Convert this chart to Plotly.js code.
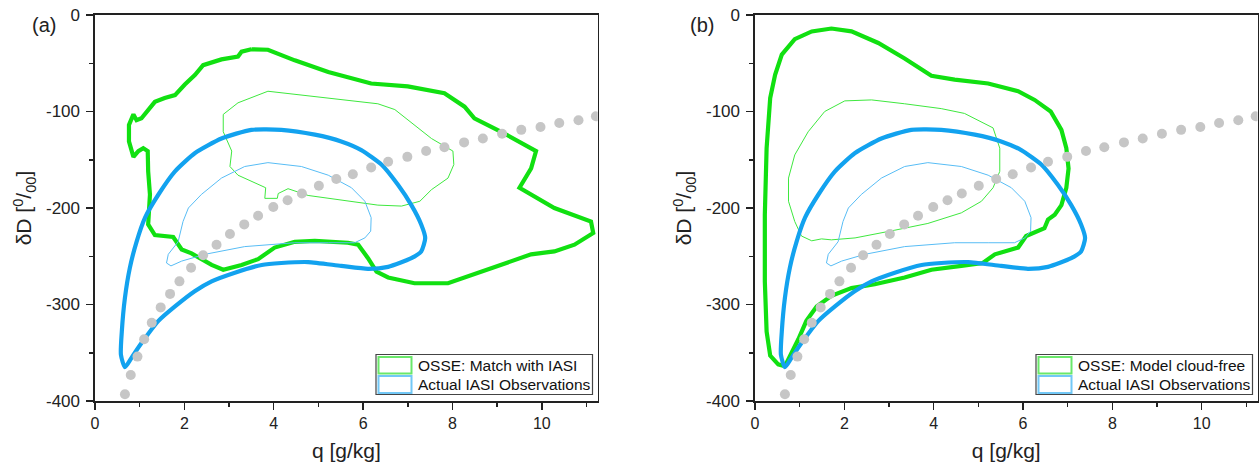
<!DOCTYPE html>
<html><head><meta charset="utf-8">
<script src="https://cdn.plot.ly/plotly-3.0.1.min.js"></script>
<style>html,body{margin:0;padding:0;background:#fff}#chart{width:1260px;height:470px}</style>
</head><body><div id="chart"></div>
<script>
// Rayleigh distillation curve (grey dots), same in both panels
const rayQ = [0.67,0.80,0.95,1.10,1.27,1.47,1.68,1.89,2.15,2.42,2.72,3.02,3.34,3.65,3.99,4.31,4.63,5.01,5.40,5.77,6.18,6.56,6.99,7.41,7.82,8.26,8.68,9.11,9.54,9.97,10.39,10.82,11.21];
const rayD = [-393,-373,-354,-336,-319,-303,-289,-276,-262,-249,-238,-227,-217,-208,-199,-192,-185,-177,-170,-165,-158,-152,-147,-141,-137,-132,-128,-123,-119,-116,-112,-109,-105];

// Actual IASI observations (both panels)
const iasiOuterQ = [0.67,0.58,0.60,0.67,0.78,0.93,1.12,1.42,1.79,2.24,2.83,3.50,4.17,4.92,5.51,5.96,6.41,6.78,7.08,7.30,7.39,7.30,7.08,6.56,6.11,5.51,4.77,4.17,3.73,3.13,2.61,2.24,1.79,1.42,1.04,0.82,0.67];
const iasiOuterD = [-365,-352,-328,-293,-262,-235,-210,-186,-162,-143,-128,-119,-119,-124,-131,-140,-155,-176,-197,-217,-231,-245,-252,-261,-263,-260,-256,-257,-259,-267,-276,-286,-302,-317,-340,-355,-365];
const iasiInnerQ = [1.60,1.70,1.94,2.46,3.35,4.47,5.22,5.81,6.04,6.17,6.18,6.04,5.74,5.22,4.62,3.87,3.35,2.83,2.38,2.09,1.97,1.86,1.64,1.60];
const iasiInnerD = [-257,-260,-255,-248,-240,-236,-236,-236,-231,-224,-210,-193,-179,-166,-157,-153,-157,-169,-186,-200,-214,-235,-248,-257];

// (a) OSSE: Match with IASI
const osseAOuterQ = [3.50,3.87,4.47,5.22,6.18,7.00,7.82,8.27,8.49,9.09,9.87,9.76,9.50,10.28,11.10,11.15,10.73,10.28,9.76,9.31,8.57,7.90,7.15,6.56,6.30,6.11,5.89,5.66,4.92,4.47,4.02,3.65,3.28,2.87,2.61,2.16,1.94,1.75,1.34,1.19,1.23,1.19,1.18,1.08,0.97,0.86,0.76,0.76,0.86,0.93,1.04,1.34,1.56,1.79,2.01,2.24,2.42,2.83,3.20,3.28,3.50];
const osseAOuterD = [-35.5,-36,-47,-59,-71,-74,-81,-95,-107,-121,-141,-159,-179,-200,-214,-226,-238,-245,-248,-255,-267,-278,-278,-272,-266,-252,-238,-236,-234,-235,-241,-253,-259,-264,-259,-247,-243,-230,-228,-217,-186,-162,-141,-138,-141,-147,-131,-114,-103,-109,-107,-90,-86,-83,-72,-62,-52,-46,-43,-38,-35.5];
const osseAInnerQ = [2.87,3.20,3.87,4.47,5.22,6.33,6.71,7.15,7.53,8.01,8.03,7.90,7.53,7.27,6.86,6.33,5.37,4.77,4.32,4.10,4.08,3.80,3.82,3.20,3.02,3.06,2.87,2.87];
const osseAInnerD = [-103,-91,-79,-82,-86,-92,-98,-114,-128,-141,-155,-169,-181,-193,-198,-197,-191,-187,-180,-185,-190,-190,-179,-166,-157,-141,-121,-103];

// (b) OSSE: Model cloud-free
const osseBOuterQ = [0.67,0.52,0.34,0.26,0.22,0.22,0.26,0.34,0.45,0.60,0.89,1.27,1.71,2.16,2.76,3.35,3.95,4.47,5.22,5.89,6.26,6.62,6.86,6.97,7.02,6.97,6.86,6.71,6.56,6.48,6.07,5.89,5.37,5.10,4.62,3.95,3.35,2.68,2.16,1.71,1.38,1.15,0.97,0.78,0.67];
const osseBOuterD = [-364,-362,-353,-328,-276,-207,-138,-86,-62,-41,-25,-17,-14,-17,-29,-45,-63,-67,-71,-79,-88,-100,-119,-138,-159,-179,-197,-207,-212,-221,-229,-241,-248,-257,-260,-264,-272,-279,-283,-291,-302,-317,-336,-355,-364];
const osseBInnerQ = [1.27,1.04,0.89,0.75,0.75,0.89,1.19,1.56,2.01,2.61,3.35,4.17,4.69,5.33,5.48,5.48,5.33,5.07,4.62,3.87,3.13,2.24,1.71,1.49,1.27];
const osseBInnerD = [-234,-229,-214,-193,-169,-145,-121,-100,-89,-88,-92,-97,-102,-117,-138,-162,-179,-193,-205,-216,-223,-231,-233,-232,-234];

const xTickVals = [0,2,4,6,8,10];
const yTickVals = [0,-100,-200,-300,-400];
const yTickText = ['0','-100','-200','-300','-400'];
const legendA = ['OSSE: Match with IASI','Actual IASI Observations'];
const legendB = ['OSSE: Model cloud-free','Actual IASI Observations'];
const panelLabels = ['(a)','(b)'];

const GREEN = '#11e011', GREEN_T = '#3fe83f', BLUE = '#12a2ef', BLUE_T = '#58bdf5', GREY = '#c6c6c6';
const W = 1260, H = 470;
const px = v => v / W, py = v => 1 - v / H;
const FAM = 'Liberation Sans, Arial, sans-serif';

function panel(xr, yr, oq, od, iq, id) {
  return [
    {x: oq, y: od, xaxis: xr, yaxis: yr, mode: 'lines', line: {color: GREEN, width: 4.2}, hoverinfo: 'skip'},
    {x: iq, y: id, xaxis: xr, yaxis: yr, mode: 'lines', line: {color: GREEN_T, width: 1}, hoverinfo: 'skip'},
    {x: iasiOuterQ, y: iasiOuterD, xaxis: xr, yaxis: yr, mode: 'lines', line: {color: BLUE, width: 4.2, shape: 'spline', smoothing: 0.6}, hoverinfo: 'skip'},
    {x: iasiInnerQ, y: iasiInnerD, xaxis: xr, yaxis: yr, mode: 'lines', line: {color: BLUE_T, width: 1}, hoverinfo: 'skip'},
    {x: rayQ, y: rayD, xaxis: xr, yaxis: yr, mode: 'markers', marker: {color: GREY, size: 10, line: {width: 0}}, hoverinfo: 'skip'}
  ];
}

const data = [].concat(
  panel('x', 'y', osseAOuterQ, osseAOuterD, osseAInnerQ, osseAInnerD),
  panel('x2', 'y2', osseBOuterQ, osseBOuterD, osseBInnerQ, osseBInnerD)
);

const titleFont = {family: FAM, size: 21, color: '#222'};

function xAxis(domain, anchor) {
  return {domain: domain, anchor: anchor, range: [0, 11.25], tickmode: 'array', tickvals: xTickVals,
    ticks: 'outside', ticklen: 7, tickwidth: 1.5, tickcolor: '#222',
    minor: {tickmode: 'linear', tick0: 0, dtick: 1, ticks: 'outside', ticklen: 4, tickwidth: 1.5, tickcolor: '#222'},
    showline: true, linecolor: '#222', linewidth: 1.6, mirror: true, showgrid: false, zeroline: false,
    tickfont: {family: FAM, size: 16, color: '#222'}, title: {text: 'q [g/kg]', font: titleFont, standoff: 12}, automargin: false, fixedrange: true};
}
function yAxis(domain, anchor) {
  return {domain: domain, anchor: anchor, range: [-400, 0], tickmode: 'array', tickvals: yTickVals, ticktext: yTickText,
    ticks: 'outside', ticklen: 7, tickwidth: 1.5, tickcolor: '#222', ticklabelstandoff: 3,
    minor: {tickmode: 'linear', tick0: 0, dtick: 50, ticks: 'outside', ticklen: 4, tickwidth: 1.5, tickcolor: '#222'},
    showline: true, linecolor: '#222', linewidth: 1.6, mirror: true, showgrid: false, zeroline: false,
    tickfont: {family: FAM, size: 17, color: '#222'}, title: {text: 'δD [<sup>0</sup>/<sub>00</sub>]', font: titleFont, standoff: 8}, automargin: false, fixedrange: true};
}

const yDom = [py(401), py(15)];

function legendShapes(x0) {
  return [
    {type: 'rect', xref: 'paper', yref: 'paper', x0: px(x0), x1: px(x0 + 216.5), y0: py(394.5), y1: py(354.5), line: {color: '#444', width: 1.2}, fillcolor: 'rgba(255,255,255,1)', layer: 'above'},
    {type: 'rect', xref: 'paper', yref: 'paper', x0: px(x0 + 2.5), x1: px(x0 + 35.5), y0: py(373.5), y1: py(357), line: {color: '#6ae86a', width: 2}, fillcolor: 'rgba(0,0,0,0)', layer: 'above'},
    {type: 'rect', xref: 'paper', yref: 'paper', x0: px(x0 + 2.5), x1: px(x0 + 35.5), y0: py(393), y1: py(376), line: {color: '#72c8f6', width: 2}, fillcolor: 'rgba(0,0,0,0)', layer: 'above'}
  ];
}
function legendText(x0, labels) {
  const f = {family: FAM, size: 15.5, color: '#111'};
  return [
    {xref: 'paper', yref: 'paper', x: px(x0 + 40), y: py(365), xanchor: 'left', yanchor: 'middle', text: labels[0], showarrow: false, font: f},
    {xref: 'paper', yref: 'paper', x: px(x0 + 40), y: py(384.5), xanchor: 'left', yanchor: 'middle', text: labels[1], showarrow: false, font: f}
  ];
}

const layout = {
  width: W, height: H, margin: {l: 0, r: 0, t: 0, b: 0},
  paper_bgcolor: '#fff', plot_bgcolor: '#fff', showlegend: false,
  xaxis: xAxis([px(95), px(597.7)], 'y'),
  yaxis: yAxis(yDom, 'x'),
  xaxis2: xAxis([px(755), px(1257.5)], 'y2'),
  yaxis2: yAxis(yDom, 'x2'),
  shapes: legendShapes(376).concat(legendShapes(1036)),
  annotations: legendText(376, legendA).concat(legendText(1036, legendB)).concat([
    {xref: 'paper', yref: 'paper', x: px(44), y: py(25), text: panelLabels[0], showarrow: false, xanchor: 'center', yanchor: 'middle', font: {family: FAM, size: 20, color: '#222'}},
    {xref: 'paper', yref: 'paper', x: px(701.5), y: py(25), text: panelLabels[1], showarrow: false, xanchor: 'center', yanchor: 'middle', font: {family: FAM, size: 20, color: '#222'}}
  ])
};

Plotly.newPlot('chart', data, layout, {displayModeBar: false, staticPlot: true});
</script>
</body></html>
